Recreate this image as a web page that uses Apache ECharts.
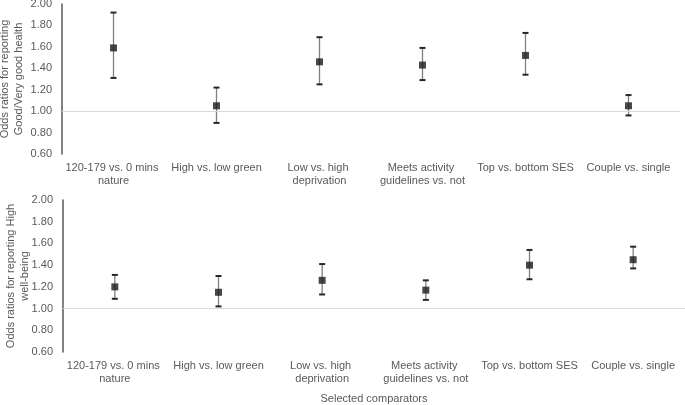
<!DOCTYPE html>
<html>
<head>
<meta charset="utf-8">
<script src="https://cdn.jsdelivr.net/npm/echarts@6/dist/echarts.min.js"></script>
<style>html,body{margin:0;padding:0;background:#fff}#c{width:685px;height:405px}</style>
</head>
<body>
<div id="c"></div>
<script>
var categories = ['120-179 vs. 0 mins nature', 'High vs. low green', 'Low vs. high deprivation', 'Meets activity guidelines vs. not', 'Top vs. bottom SES', 'Couple vs. single'];
var healthOR = [1.59, 1.05, 1.46, 1.43, 1.52, 1.05];
var healthLower = [1.31, 0.89, 1.25, 1.29, 1.34, 0.96];
var healthUpper = [1.92, 1.22, 1.69, 1.59, 1.73, 1.15];
var wellbeingOR = [1.20, 1.15, 1.26, 1.17, 1.40, 1.45];
var wellbeingLower = [1.09, 1.02, 1.13, 1.08, 1.27, 1.37];
var wellbeingUpper = [1.31, 1.30, 1.41, 1.26, 1.54, 1.57];
var yTicks = [0.60, 0.80, 1.00, 1.20, 1.40, 1.60, 1.80, 2.00];
var refLine = 1.00;

var txt = '#595959';
var font = 'Liberation Sans, Arial, sans-serif';
var fs = 11;

function errData(lo, hi) {
  return categories.map(function (c, i) { return [i, lo[i], hi[i]]; });
}
function renderErr(params, api) {
  var x = api.value(0);
  var lo = api.coord([x, api.value(1)]);
  var hi = api.coord([x, api.value(2)]);
  var hw = 3;
  return {
    type: 'group',
    children: [
      { type: 'line', shape: { x1: lo[0], y1: lo[1], x2: hi[0], y2: hi[1] }, style: { stroke: '#7f7f7f', lineWidth: 1.3 } },
      { type: 'line', shape: { x1: hi[0] - hw, y1: hi[1], x2: hi[0] + hw, y2: hi[1] }, style: { stroke: '#262626', lineWidth: 2 } },
      { type: 'line', shape: { x1: lo[0] - hw, y1: lo[1], x2: lo[0] + hw, y2: lo[1] }, style: { stroke: '#262626', lineWidth: 2 } }
    ]
  };
}
function yAxis(gi, name, gap) {
  return {
    type: 'value', gridIndex: gi, min: yTicks[0], max: yTicks[yTicks.length - 1], interval: 0.2,
    name: name, nameLocation: 'middle', nameRotate: 90, nameGap: gap, nameMoveOverlap: false,
    nameTextStyle: { color: txt, fontSize: fs, fontFamily: font, lineHeight: 14 },
    axisLine: { show: true, lineStyle: { color: '#595959', width: 1.5 } },
    axisTick: { show: false },
    splitLine: { show: false },
    axisLabel: { color: txt, fontSize: fs, fontFamily: font, margin: 10, formatter: function (v) { return v.toFixed(2); } }
  };
}
function xAxis(gi, name) {
  return {
    type: 'category', gridIndex: gi, data: categories,
    name: name, nameLocation: 'middle', nameGap: 41, nameMoveOverlap: false,
    nameTextStyle: { color: txt, fontSize: fs, fontFamily: font },
    axisLine: { show: false }, axisTick: { show: false },
    axisLabel: { interval: 0, color: txt, fontSize: fs, fontFamily: font, margin: 7, width: 100, overflow: 'break', lineHeight: 13 }
  };
}
function markLine() {
  return { silent: true, symbol: 'none', label: { show: false }, lineStyle: { color: '#d9d9d9', width: 1, type: 'solid' }, data: [{ yAxis: refLine }] };
}

var chart = echarts.init(document.getElementById('c'), null, { renderer: 'canvas' });
chart.setOption({
  animation: false,
  grid: [
    { left: 62, right: 5, top: 4, height: 150, containLabel: false, outerBoundsMode: 'none' },
    { left: 63, right: 0, top: 200, height: 152, containLabel: false, outerBoundsMode: 'none' }
  ],
  xAxis: [xAxis(0, ''), xAxis(1, 'Selected comparators')],
  yAxis: [yAxis(0, 'Odds ratios for reporting\nGood/Very good health', 36), yAxis(1, 'Odds ratios for reporting High\nwell-being', 31)],
  series: [
    { type: 'custom', xAxisIndex: 0, yAxisIndex: 0, renderItem: renderErr, data: errData(healthLower, healthUpper), z: 2 },
    { type: 'scatter', xAxisIndex: 0, yAxisIndex: 0, symbol: 'rect', symbolSize: 7, itemStyle: { color: '#1a1a1a' }, data: healthOR, z: 3, markLine: markLine() },
    { type: 'custom', xAxisIndex: 1, yAxisIndex: 1, renderItem: renderErr, data: errData(wellbeingLower, wellbeingUpper), z: 2 },
    { type: 'scatter', xAxisIndex: 1, yAxisIndex: 1, symbol: 'rect', symbolSize: 7, itemStyle: { color: '#1a1a1a' }, data: wellbeingOR, z: 3, markLine: markLine() }
  ]
});
</script>
</body>
</html>
